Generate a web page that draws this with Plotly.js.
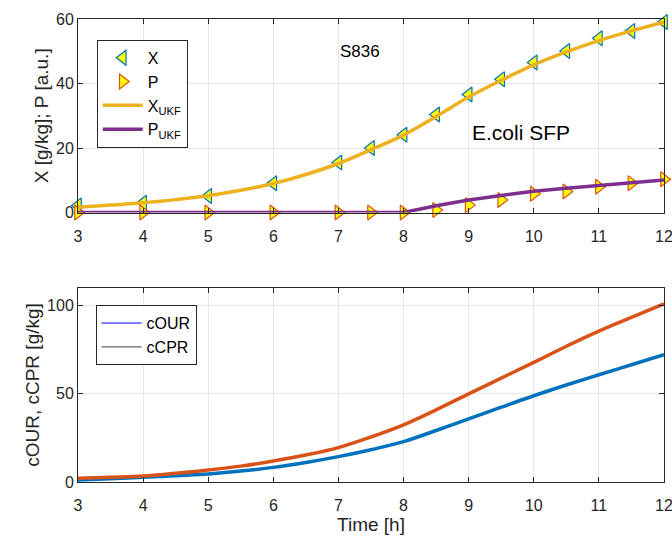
<!DOCTYPE html>
<html><head><meta charset="utf-8">
<script src="https://cdn.plot.ly/plotly-3.0.1.min.js"></script>
<style>body{margin:0;background:#fff}#plot{width:672px;height:540px}</style>
</head><body><div id="plot"></div>
<script>
// Measured samples (top panel)
const tMeas = [3,4,5,6,7,7.5,8,8.5,9,9.5,10,10.5,11,11.5,12];
const xMeas = [2.2,3.0,5.1,9.1,15.5,20.0,24.1,30.4,36.6,41.3,46.5,50.1,54.0,56.3,59.1];
const pMeas = [0,0,0,0,0,0,0,0.8,2.3,3.9,5.8,6.5,8.0,9.1,10.3];
// UKF estimates
const tUkf = [3,3.5,4,4.5,5,5.5,6,6.5,7,7.5,8,8.5,9,9.5,10,10.5,11,11.5,12];
const xUkf = [1.6,2.3,3.0,4.0,5.2,6.9,9.0,11.8,15.2,19.5,24.0,29.8,35.8,41.0,45.8,49.8,53.3,56.3,59.0];
const pUkf = [0,0,0,0,0,0,0,0,0,0,0,2.1,3.9,5.3,6.6,7.5,8.4,9.2,10.1];
// Bottom panel
const tRate = [3,3.5,4,4.5,5,5.5,6,6.5,7,7.5,8,8.5,9,9.5,10,10.5,11,11.5,12];
const cOUR = [1.1,1.8,2.7,3.6,4.5,6.2,8.3,11.1,14.4,18.3,22.9,29.2,35.8,42.4,48.9,55.0,60.8,66.5,72.2];
const cCPR = [2.1,2.7,3.4,5.0,6.8,9.0,11.9,15.3,19.5,25.5,32.4,40.9,50.0,58.9,67.8,77.0,85.6,93.4,101.0];
const xTicks = [3,4,5,6,7,8,9,10,11,12];

const F = 'Liberation Sans, Arial, sans-serif';
const ink = '#262626';
const traces = [
  {x:tMeas,y:xMeas,name:'X',mode:'markers',type:'scatter',cliponaxis:false,
   marker:{symbol:'triangle-left',size:13,color:'#FFFF00',line:{color:'#0072BD',width:1.2}},xaxis:'x',yaxis:'y',legend:'legend'},
  {x:tMeas,y:pMeas,name:'P',mode:'markers',type:'scatter',cliponaxis:false,
   marker:{symbol:'triangle-right',size:13,color:'#FFFF00',line:{color:'#D95319',width:1.2}},xaxis:'x',yaxis:'y',legend:'legend'},
  {x:tUkf,y:xUkf,name:'X<sub>UKF</sub>',mode:'lines',type:'scatter',line:{color:'#EDB120',width:3.5,shape:'spline'},xaxis:'x',yaxis:'y',legend:'legend'},
  {x:tUkf,y:pUkf,name:'P<sub>UKF</sub>',mode:'lines',type:'scatter',line:{color:'#7E2F8E',width:3.5},xaxis:'x',yaxis:'y',legend:'legend'},
  {x:tRate,y:cOUR,name:'cOUR',mode:'lines',type:'scatter',line:{color:'#0072BD',width:3.5,shape:'spline'},xaxis:'x2',yaxis:'y2',showlegend:false},
  {x:tRate,y:cCPR,name:'cCPR',mode:'lines',type:'scatter',line:{color:'#D95319',width:3.5,shape:'spline'},xaxis:'x2',yaxis:'y2',showlegend:false},
  {x:[null],y:[null],name:'cOUR',mode:'lines',type:'scatter',line:{color:'#0000FF',width:1},xaxis:'x2',yaxis:'y2',legend:'legend2'},
  {x:[null],y:[null],name:'cCPR',mode:'lines',type:'scatter',line:{color:'#666666',width:1.2},xaxis:'x2',yaxis:'y2',legend:'legend2'}
];
const ax = {showline:true,mirror:'ticks',linecolor:ink,linewidth:1,ticks:'inside',ticklen:5,tickcolor:ink,
  showgrid:true,gridcolor:'#e6e6e6',zeroline:false,tickfont:{family:F,size:16,color:ink},ticklabeloverflow:'allow'};
const layout = {
  width:672,height:540,paper_bgcolor:'#fff',plot_bgcolor:'#fff',
  margin:{l:78,r:8,t:19,b:58},
  font:{family:F,color:ink},
  xaxis:Object.assign({},ax,{range:[3,12],tickvals:xTicks,anchor:'y',domain:[0,1],ticklabelstandoff:9}),
  yaxis:Object.assign({},ax,{range:[0,60],tickvals:[0,20,40,60],domain:[0.582,1],anchor:'x',
    title:{text:'X [g/kg]; P [a.u.]',font:{family:F,size:19,color:ink},standoff:2}}),
  xaxis2:Object.assign({},ax,{range:[3,12],tickvals:xTicks,anchor:'y2',domain:[0,1],ticklabelstandoff:9,
    title:{text:'Time [h]',font:{family:F,size:19,color:ink},standoff:0}}),
  yaxis2:Object.assign({},ax,{range:[0,110],tickvals:[0,50,100],domain:[0,0.419],anchor:'x2',
    title:{text:'cOUR, cCPR [g/kg]',font:{family:F,size:19,color:ink},standoff:2}}),
  legend:{x:0.032,y:0.955,xanchor:'left',yanchor:'top',bgcolor:'#fff',bordercolor:ink,borderwidth:1,
    font:{family:F,size:16,color:'#000'},tracegroupgap:0,itemwidth:40},
  legend2:{x:0.03,y:0.382,xanchor:'left',yanchor:'top',bgcolor:'#fff',bordercolor:ink,borderwidth:1,
    font:{family:F,size:16,color:'#000'},itemwidth:40},
  annotations:[
    {x:7,y:50,xref:'x',yref:'y',text:'S836',showarrow:false,xanchor:'left',font:{family:F,size:17,color:'#000'}},
    {x:9.02,y:24.8,xref:'x',yref:'y',text:'E.coli SFP',showarrow:false,xanchor:'left',font:{family:F,size:21,color:'#000'}}
  ]
};
Plotly.newPlot('plot',traces,layout,{displayModeBar:false,staticPlot:true});
</script></body></html>
